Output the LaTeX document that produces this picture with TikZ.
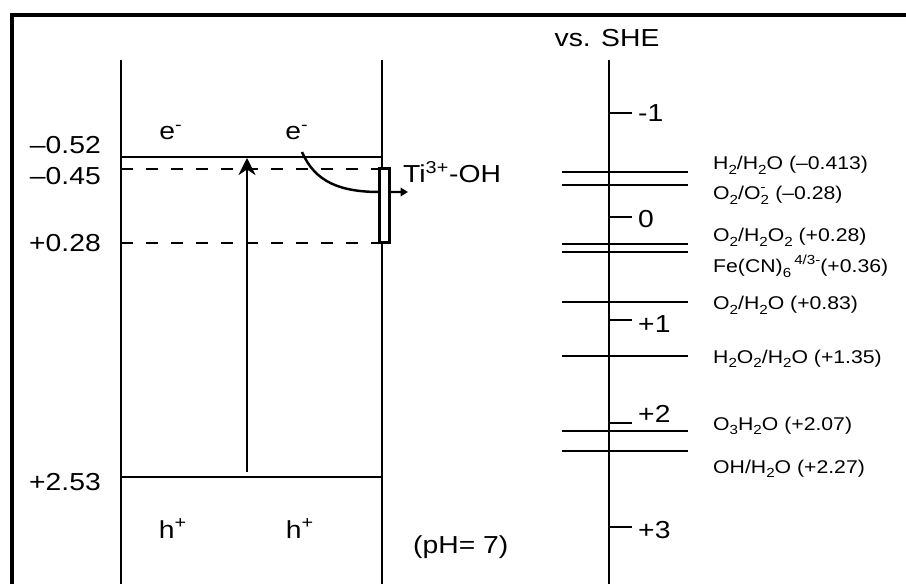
\documentclass[tikz,border=0pt]{standalone}
\usepackage{fontspec}
\setmainfont[FakeStretch=1.15]{Liberation Sans}
\usetikzlibrary{arrows.meta, positioning, calc}
\newcommand{\chsub}[1]{\raisebox{-0.5ex}{\fontsize{7.5}{8}\selectfont #1}}
\newcommand{\chsup}[1]{\raisebox{0.9ex}{\fontsize{7.5}{8}\selectfont #1}}

\begin{document}
\begin{tikzpicture}[x=0.02cm, y=-0.02cm, >=Stealth, line width=1.4pt,
    every node/.style={font=\fontsize{14}{16}\selectfont, inner sep=0pt},
    redox/.style={font=\fontsize{10.5}{12}\selectfont, anchor=base west},
    potlab/.style={anchor=base east},
    levdash/.style={dash pattern=on 0.24cm off 0.26cm}]
    \useasboundingbox (0,0) rectangle (906,584);
    % frame
    \draw[line width=2.4pt] (906,15) -- (12,15) -- (12,584);

    % band of TiO2
    \coordinate (lt) at (121,60);
    \coordinate (lb) at (121,584);
    \coordinate (rt) at (382,60);
    \coordinate (rb) at (382,584);
    \draw (lt) -- (lb);
    \draw (rt) -- (rb);
    \coordinate (cbl) at (121,157);
    \coordinate (cbr) at (382,157);
    \coordinate (d1l) at (121,169);
    \coordinate (d1r) at (382,169);
    \coordinate (d2l) at (121,243);
    \coordinate (d2r) at (382,243);
    \coordinate (vbl) at (121,477);
    \coordinate (vbr) at (382,477);
    \draw (cbl) -- (cbr);
    \draw[levdash] (d1l) -- (d1r);
    \draw[levdash] (d2l) -- (d2r);
    \draw (vbl) -- (vbr);

    \node[potlab] (p052) at (102,154) {--0.52};
    \node[potlab] (p045) at (102,185) {--0.45};
    \node[potlab] (p028) at (102,252) {+0.28};
    \node[potlab] (p253) at (102,490) {+2.53};

    \node[anchor=base] (e1) at (171,140) {e\textsuperscript{-}};
    \node[anchor=base] (e2) at (297,140) {e\textsuperscript{-}};
    \node[anchor=base] (h1) at (173,538) {h\textsuperscript{+}};
    \node[anchor=base] (h2) at (300,538) {h\textsuperscript{+}};

    % excitation
    \coordinate (exa) at (247,472);
    \coordinate (exb) at (247,158);
    \draw[-{Stealth[length=0.34cm,width=0.34cm]}] (exa) -- (exb);

    % trapping
    \coordinate (ts) at (302,152);
    \coordinate (tout) at (408,192);
    \draw[-{Triangle[length=0.15cm,width=0.17cm]}] (ts) .. controls (315,182) and (340,192) .. (380,192) -- (tout);
    \node[draw, fill=white, minimum width=0.2cm, minimum height=1.48cm] (trap) at (384.5,205.5) {};
    \node[anchor=base west] (tioh) at (402,183) {Ti\textsuperscript{3+}-OH};
    \node[anchor=base west] (ph) at (412,553) {(pH= 7)};

    % SHE scale
    \coordinate (st) at (609,60);
    \coordinate (sb) at (609,584);
    \draw (st) -- (sb);
    \node[anchor=base] (she) at (607,47) {vs. SHE};
    \foreach \ty/\ly/\txt [count=\i] in {113/122/-1, 217/228/0, 320/332/+1, 423/422/+2, 527/538/+3} {
        \coordinate (tk\i) at (609,\ty);
        \draw (tk\i) -- ++(23,0);
        \node[anchor=base west] (tl\i) at (637,\ly) {\txt};
    }

    % redox levels
    \draw (562,172) -- (688,172);
    \draw (562,185) -- (688,185);
    \draw (562,244) -- (688,244);
    \draw (562,252) -- (688,252);
    \draw (562,302) -- (688,302);
    \draw (562,356) -- (688,356);
    \draw (562,431) -- (688,431);
    \draw (562,451) -- (688,451);
    \node[redox] (r1) at (712,170) {H\chsub{2}/H\chsub{2}O (--0.413)};
    \node[redox] (r2) at (712,200) {O\chsub{2}/O\chsub{2}\kern-0.45em\chsup{-}\kern0.2em\ (--0.28)};
    \node[redox] (r3) at (712,242) {O\chsub{2}/H\chsub{2}O\chsub{2} (+0.28)};
    \node[redox] (r4) at (712,273) {Fe(CN)\chsub{6}\,\chsup{4/3-}(+0.36)};
    \node[redox] (r5) at (712,310) {O\chsub{2}/H\chsub{2}O (+0.83)};
    \node[redox] (r6) at (712,363) {H\chsub{2}O\chsub{2}/H\chsub{2}O (+1.35)};
    \node[redox] (r7) at (712,430) {O\chsub{3}H\chsub{2}O (+2.07)};
    \node[redox] (r8) at (712,473) {OH/H\chsub{2}O (+2.27)};
\end{tikzpicture}
\end{document}
